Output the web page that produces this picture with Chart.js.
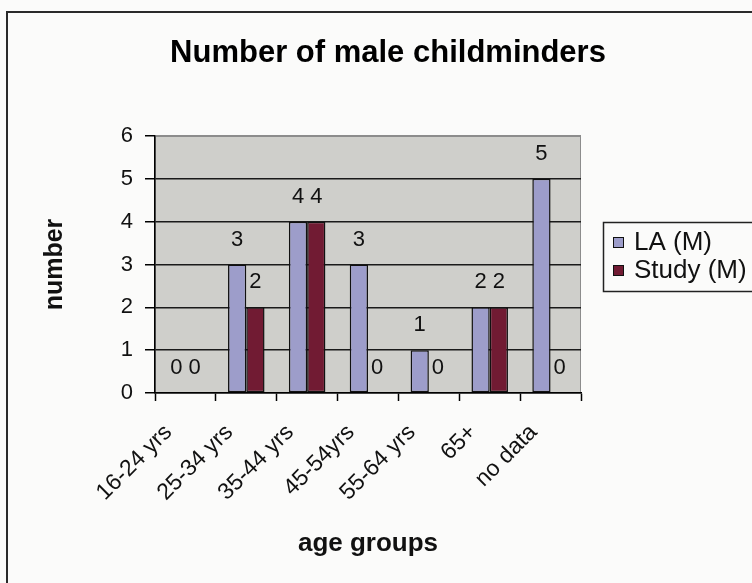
<!DOCTYPE html>
<html>
<head>
<meta charset="utf-8">
<title>Number of male childminders</title>
<script src="https://cdn.jsdelivr.net/npm/chart.js@4.4.1/dist/chart.umd.min.js"></script>
<style>
    html, body {
        margin: 0;
        padding: 0;
        background: #fbfbfa;
    }
    canvas {
        display: block;
    }
</style>
</head>
<body>
<canvas id="myChart" width="752" height="583"></canvas>
<script>

// ============================================
// DATA
// ============================================

const ageGroups = ['16-24 yrs', '25-34 yrs', '35-44 yrs', '45-54yrs', '55-64 yrs', '65+', 'no data'];

const laValues = [0, 3, 4, 3, 1, 2, 5];

const studyValues = [0, 2, 4, 0, 0, 2, 0];

const seriesNames = ['LA (M)', 'Study (M)'];

const yTicks = [0, 1, 2, 3, 4, 5, 6];

const chartTitle = 'Number of male childminders';

const FONT = '"Liberation Sans", Arial, sans-serif';

// ============================================
// FRAME, TITLE, PLOT BACKGROUND, VALUE LABELS, LEGEND
// ============================================

const excelLook = {

    id: 'excelLook',

    beforeDraw(chart) {
        const c = chart.ctx;
        const a = chart.chartArea;

        c.save();

        // outer frame (left and top edges show)
        c.strokeStyle = '#2a2a2a';
        c.lineWidth = 2;
        c.beginPath();
        c.moveTo(7, 583);
        c.lineTo(7, 12);
        c.lineTo(752, 12);
        c.stroke();

        // title
        c.fillStyle = '#000';
        c.font = 'bold 31px ' + FONT;
        c.textAlign = 'center';
        c.textBaseline = 'middle';
        c.fillText(chartTitle, 388, 53);

        // grey plot area
        c.fillStyle = '#cfcfcb';
        c.fillRect(a.left, a.top, a.right - a.left, a.bottom - a.top);
        c.strokeStyle = '#8c8c8c';
        c.lineWidth = 1;
        c.strokeRect(a.left + 0.5, a.top + 0.5, a.right - a.left - 1, a.bottom - a.top - 1);

        c.restore();
    },

    afterDatasetsDraw(chart) {
        const c = chart.ctx;
        const y = chart.scales.y;

        c.save();
        c.fillStyle = '#111';
        c.font = '22px ' + FONT;
        c.textAlign = 'center';
        c.textBaseline = 'middle';

        chart.data.datasets.forEach((ds, i) => {
            chart.getDatasetMeta(i).data.forEach((bar, j) => {
                const top = y.getPixelForValue(ds.data[j]);
                c.fillText(String(ds.data[j]), bar.x, top - 25);
            });
        });

        // legend box
        const lx = 603, ly = 222, lh = 69;
        c.strokeStyle = '#222';
        c.lineWidth = 1.5;
        c.strokeRect(lx + 0.5, ly + 0.5, 200, lh);

        c.font = '26px ' + FONT;
        c.textAlign = 'left';
        c.lineWidth = 1;
        chart.data.datasets.forEach((ds, i) => {
            const cy = ly + 20 + i * 28;
            c.fillStyle = ds.backgroundColor;
            c.fillRect(lx + 10, cy - 5, 10, 10);
            c.strokeStyle = '#111';
            c.strokeRect(lx + 10.5, cy - 4.5, 10, 10);
            c.fillStyle = '#111';
            c.fillText(ds.label, lx + 31, cy + 1);
        });
        c.restore();
    }
};

// ============================================
// CREATE CHART
// ============================================

const ctx = document.getElementById('myChart');

new Chart(ctx, {

    type: 'bar',

    data: {

        labels: ageGroups,

        datasets: [{
            label: seriesNames[0],
            data: laValues,
            backgroundColor: '#9d9dca',
            borderColor: '#111',
            borderWidth: 1.5,
            borderSkipped: false
        }, {
            label: seriesNames[1],
            data: studyValues,
            backgroundColor: '#711b33',
            borderColor: '#111',
            borderWidth: 1.5,
            borderSkipped: false
        }]
    },

    options: {

        responsive: false,

        animation: false,

        layout: {
            padding: { left: 0, right: 171, top: 136, bottom: 20 }
        },

        datasets: {
            bar: {
                categoryPercentage: 0.6,
                barPercentage: 1.0
            }
        },

        plugins: {

            legend: { display: false },

            tooltip: { enabled: false },

            title: { display: false }
        },

        scales: {

            x: {
                afterFit(scale) { scale.height = 170; },
                grid: {
                    drawOnChartArea: false,
                    drawTicks: true,
                    tickLength: 8,
                    tickWidth: 1.5,
                    color: '#000'
                },
                border: { color: '#000', width: 1.5 },
                ticks: {
                    color: '#111',
                    autoSkip: false,
                    minRotation: 45,
                    maxRotation: 45,
                    padding: 18,
                    labelOffset: -17,
                    font: { family: FONT, size: 23 }
                },
                title: {
                    display: true,
                    text: 'age groups',
                    color: '#111',
                    font: { family: FONT, size: 26, weight: 'bold' },
                    padding: { top: 0, bottom: 4 }
                }
            },

            y: {
                min: 0,
                max: 6,
                afterFit(scale) { scale.width = 155; },
                afterBuildTicks(scale) {
                    scale.ticks = yTicks.map(v => ({ value: v }));
                },
                grid: {
                    color: c => (c.tick && c.tick.value === 6 ? '#8c8c8c' : '#1a1a1a'),
                    tickColor: '#000',
                    tickLength: 10,
                    lineWidth: 1.5
                },
                border: { color: '#000', width: 1.5 },
                ticks: {
                    color: '#111',
                    padding: 12,
                    font: { family: FONT, size: 22 }
                },
                title: {
                    display: true,
                    text: 'number',
                    color: '#111',
                    font: { family: FONT, size: 25, weight: 'bold' },
                    padding: { top: 40, bottom: 0 }
                }
            }
        }
    },

    plugins: [excelLook]
});
</script>
</body>
</html>
